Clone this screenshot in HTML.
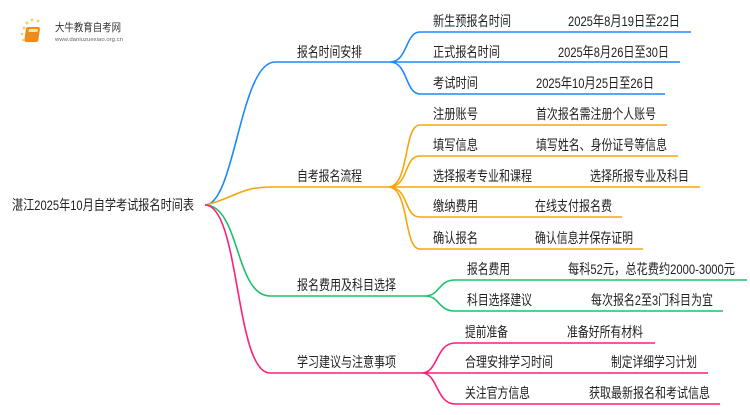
<!DOCTYPE html>
<html><head><meta charset="utf-8"><style>
body{margin:0;background:#fff;}
svg text{font-family:"Liberation Sans","Noto Sans CJK SC",sans-serif;fill:#222;}
</style></head><body>
<svg width="750" height="410" viewBox="0 0 750 410" xmlns="http://www.w3.org/2000/svg">
<g fill="#f6c24a" opacity="0.8">
<circle cx="24" cy="28" r="1.5"/><circle cx="27" cy="23" r="1.5"/><circle cx="32" cy="20" r="1.5"/><circle cx="38" cy="21" r="1.5"/><circle cx="22" cy="34" r="1.3"/><circle cx="23" cy="40" r="1.2"/>
</g>
<rect x="30" y="27" width="14" height="15" rx="2" fill="#f08a1c" transform="skewX(-8)"/>
<rect x="33" y="29" width="9" height="3" fill="#fde2b0" transform="skewX(-8)"/>
<text x="55" y="31" font-size="11" textLength="66" lengthAdjust="spacingAndGlyphs" style="fill:#333">大牛教育自考网</text>
<text x="55" y="41" font-size="5.5" textLength="68" lengthAdjust="spacingAndGlyphs" style="fill:#666">www.daniuzuexiao.org.cn</text>

<g fill="none" stroke-width="1.6">
<path d="M205 205 C235 205,240 62,275 62 L390 62" stroke="#1e88ff"/>
<path d="M390 62 C408 62,405 32,420 32 L691 32 M390 62 L680 62 M390 62 C408 62,405 94,420 94 L665 94" stroke="#1e88ff"/>
<path d="M205 205 C230 200,240 187,270 187 L388 187" stroke="#f5a70a"/>
<path d="M388 187 C410 187,403 125,420 125 L667 125 M388 187 C410 187,403 156,420 156 L678 156 M388 187 L700 187 M388 187 C410 187,403 217,420 217 L622 217 M388 187 C410 187,403 249,420 249 L643 249" stroke="#f5a70a"/>
<path d="M205 205 C240 205,235 296,270 296 L425 296" stroke="#1bc06a"/>
<path d="M425 296 C440 296,438 280,455 280 L747 280 M425 296 C440 296,438 311,455 311 L723 311" stroke="#1bc06a"/>
<path d="M205 205 C240 205,235 373,270 373 L422 373" stroke="#ff1f7a"/>
<path d="M422 373 C438 373,436 343,455 343 L655 343 M422 373 L708 373 M422 373 C438 373,436 404,455 404 L720 404" stroke="#ff1f7a"/>
</g>

<g font-size="14">
<text x="12" y="210" textLength="182" lengthAdjust="spacingAndGlyphs">湛江2025年10月自学考试报名时间表</text>
<text x="297" y="57" textLength="65" lengthAdjust="spacingAndGlyphs">报名时间安排</text>
<text x="297" y="181" textLength="65" lengthAdjust="spacingAndGlyphs">自考报名流程</text>
<text x="297" y="290" textLength="99" lengthAdjust="spacingAndGlyphs">报名费用及科目选择</text>
<text x="297" y="367" textLength="99" lengthAdjust="spacingAndGlyphs">学习建议与注意事项</text>
</g>
<g font-size="14">
<text x="433" y="26" textLength="78" lengthAdjust="spacingAndGlyphs">新生预报名时间</text><text x="568" y="26" textLength="112" lengthAdjust="spacingAndGlyphs">2025年8月19日至22日</text>
<text x="433" y="57" textLength="67" lengthAdjust="spacingAndGlyphs">正式报名时间</text><text x="558" y="57" textLength="111" lengthAdjust="spacingAndGlyphs">2025年8月26日至30日</text>
<text x="433" y="88" textLength="45" lengthAdjust="spacingAndGlyphs">考试时间</text><text x="536" y="88" textLength="118" lengthAdjust="spacingAndGlyphs">2025年10月25日至26日</text>
<text x="433" y="119" textLength="45" lengthAdjust="spacingAndGlyphs">注册账号</text><text x="536" y="119" textLength="120" lengthAdjust="spacingAndGlyphs">首次报名需注册个人账号</text>
<text x="433" y="150" textLength="45" lengthAdjust="spacingAndGlyphs">填写信息</text><text x="536" y="150" textLength="131" lengthAdjust="spacingAndGlyphs">填写姓名、身份证号等信息</text>
<text x="433" y="181" textLength="99" lengthAdjust="spacingAndGlyphs">选择报考专业和课程</text><text x="590" y="181" textLength="99" lengthAdjust="spacingAndGlyphs">选择所报专业及科目</text>
<text x="433" y="211" textLength="45" lengthAdjust="spacingAndGlyphs">缴纳费用</text><text x="535" y="211" textLength="77" lengthAdjust="spacingAndGlyphs">在线支付报名费</text>
<text x="433" y="243" textLength="45" lengthAdjust="spacingAndGlyphs">确认报名</text><text x="535" y="243" textLength="98" lengthAdjust="spacingAndGlyphs">确认信息并保存证明</text>
<text x="467" y="274" textLength="43" lengthAdjust="spacingAndGlyphs">报名费用</text><text x="568" y="274" textLength="167" lengthAdjust="spacingAndGlyphs">每科52元，总花费约2000-3000元</text>
<text x="467" y="305" textLength="65" lengthAdjust="spacingAndGlyphs">科目选择建议</text><text x="591" y="305" textLength="122" lengthAdjust="spacingAndGlyphs">每次报名2至3门科目为宜</text>
<text x="465" y="337" textLength="43" lengthAdjust="spacingAndGlyphs">提前准备</text><text x="567" y="337" textLength="76" lengthAdjust="spacingAndGlyphs">准备好所有材料</text>
<text x="465" y="367" textLength="88" lengthAdjust="spacingAndGlyphs">合理安排学习时间</text><text x="611" y="367" textLength="86" lengthAdjust="spacingAndGlyphs">制定详细学习计划</text>
<text x="465" y="398" textLength="65" lengthAdjust="spacingAndGlyphs">关注官方信息</text><text x="589" y="398" textLength="121" lengthAdjust="spacingAndGlyphs">获取最新报名和考试信息</text>
</g>
</svg>
</body></html>
